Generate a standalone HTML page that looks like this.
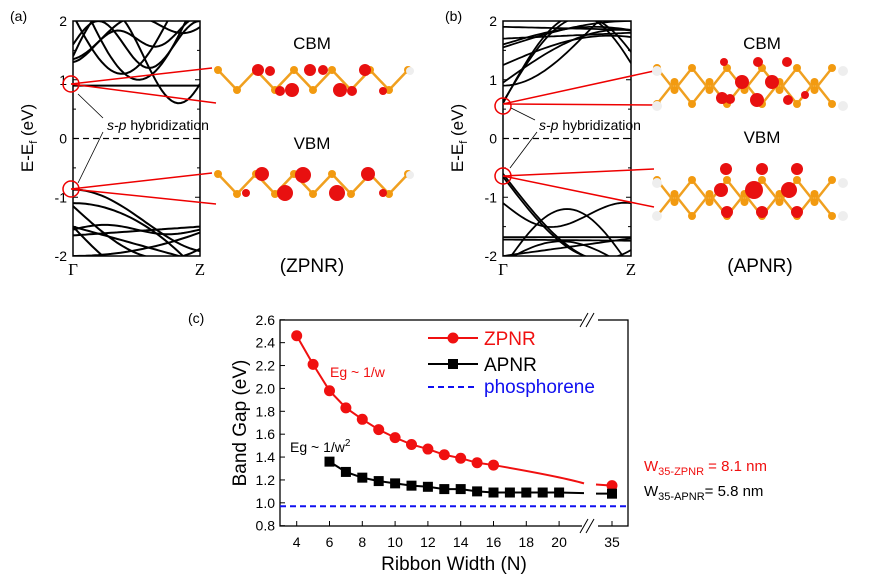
<!DOCTYPE html>
<html><head><meta charset="utf-8"><style>
body{margin:0;background:#fff;width:878px;height:583px;overflow:hidden}
svg{font-family:"Liberation Sans",Arial,sans-serif}
</style></head><body>
<svg id="s" width="878" height="583" viewBox="0 0 878 583" xmlns="http://www.w3.org/2000/svg">
<g id="a"></g>
</svg>
<script>
var S=document.getElementById('a'),NS='http://www.w3.org/2000/svg';
function el(t,at,txt){var e=document.createElementNS(NS,t);for(var k in at)e.setAttribute(k,at[k]);if(txt!==undefined)e.innerHTML=txt;S.appendChild(e);return e;}
function band(x0,x1,curves,sw,tag){
 var Y=function(E){return 138.5-58.75*E};
 var cp='c'+tag;
 el('clipPath',{id:cp},'<rect x="'+x0+'" y="21" width="'+(x1-x0)+'" height="235"/>');
 var g=el('g',{'clip-path':'url(#'+cp+')'});
 curves.forEach(function(c){var d='';for(var i=0;i<=40;i++){var t=i/40;var E=c(t);d+=(i?'L':'M')+(x0+t*(x1-x0)).toFixed(1)+','+Y(E).toFixed(1);}
  var p=document.createElementNS(NS,'path');p.setAttribute('d',d);p.setAttribute('fill','none');p.setAttribute('stroke','#000');p.setAttribute('stroke-width',sw);g.appendChild(p);});
 el('rect',{x:x0,y:21,width:x1-x0,height:235,fill:'none',stroke:'#000','stroke-width':1.5});
 [-2,-1,0,1,2].forEach(function(v){el('line',{x1:x0,x2:x0+5,y1:Y(v),y2:Y(v),stroke:'#000'});el('line',{x1:x1,x2:x1-5,y1:Y(v),y2:Y(v),stroke:'#000'});
  el('text',{x:x0-6,y:Y(v)+5,'font-size':14,'text-anchor':'end'},v);});
 [-1.5,-0.5,0.5,1.5].forEach(function(v){el('line',{x1:x0,x2:x0+3,y1:Y(v),y2:Y(v),stroke:'#000'});el('line',{x1:x1,x2:x1-3,y1:Y(v),y2:Y(v),stroke:'#000'});});
 el('line',{x1:x0,x2:x1,y1:Y(0),y2:Y(0),stroke:'#000','stroke-dasharray':'6,4','stroke-width':1.3});
 el('text',{x:x0,y:275,'font-size':17,'text-anchor':'middle','font-family':'Liberation Serif'},'Γ');
 el('text',{x:x1,y:275,'font-size':17,'text-anchor':'middle','font-family':'Liberation Serif'},'Z');
 el('text',{x:x0-40,y:138,'font-size':17,'text-anchor':'middle',transform:'rotate(-90 '+(x0-40)+' 138)'},'E-E<tspan font-size="11" dy="4">f</tspan><tspan dy="-4"> (eV)</tspan>');
}
var cos=Math.cos,sin=Math.sin,PI=Math.PI;
band(73,200,[
 t=>0.9, t=>1.05+ (0.9-0.4*cos(PI*t*2.2))*0.6+0.5*t,
 t=>2.1-1.0*sin(PI*t*1.3), t=>1.5-0.2*cos(PI*t*3)+0.4*t, t=>1.6+0.4*sin(PI*t*2.5),
 t=>2.2-1.2*sin(PI*(t-0.1)*1.2)*(t>0.1), t=>1.4+0.8*sin(PI*t*1.8),
 t=>-0.87-1.1*sin(PI*t*0.6)*t, t=>-1.1-1.0*t*t*1.2, t=>-1.15-0.9*sin(PI*t*0.7),
 t=>-1.55+0.08*sin(PI*t*2), t=>-1.6-0.6*t+0.1, t=>-1.5-0.9*sin(PI*t*0.8), t=>-2.0+0.4*t*t, t=>-1.65+0.15*t
],2,'a');
el('path',{d:'M 71 84 L 212 68 M 71 84 L 216 103 M 71 189 L 212 173 M 71 189 L 216 204',stroke:'#e00','stroke-width':1.5,fill:'none'});
el('circle',{cx:71,cy:84,r:8,stroke:'#e00','stroke-width':1.5,fill:'none'});
el('circle',{cx:71,cy:189,r:8,stroke:'#e00','stroke-width':1.5,fill:'none'});
el('path',{d:'M103 118 L78 94 M103 132 L78 183',stroke:'#000','stroke-width':0.8});
el('text',{x:107,y:130,'font-size':14},'<tspan font-style="italic">s-p</tspan> hybridization');
el('text',{x:10,y:21,'font-size':14},'(a)');
el('text',{x:312,y:49,'font-size':17,'text-anchor':'middle'},'CBM');
el('text',{x:312,y:149,'font-size':17,'text-anchor':'middle'},'VBM');
el('text',{x:312,y:272,'font-size':19,'text-anchor':'middle'},'(ZPNR)');
band(503,631,[
 t=>0.6+1.5*sin(PI*t*0.85), t=>0.62+1.45*sin(PI*t*0.8), t=>0.9+1.0*sin(PI*t*0.5)*t*1.6, t=>0.95+0.9*sin(PI*t*0.55),
 t=>1.25+0.5*sin(PI*t*0.6), t=>1.55+0.45*sin(PI*t*0.5), t=>1.7+0.1*t, t=>1.6+0.3*sin(PI*t*0.7), t=>1.9-0.05*t,
 t=>-0.6-1.5*sin(PI*t*0.6), t=>-0.65-1.4*sin(PI*t*0.65), t=>-1.1-0.3*t-0.3*sin(PI*t*1.5),
 t=>-2.2+1.0*sin(PI*t), t=>-1.68, t=>-1.72-0.02*t, t=>-2.1+0.35*sin(PI*t*1.1), t=>-2.0+0.3*t
],1.8,'b');
el('path',{d:'M 503 104 L 654 71 M 503 104 L 654 105 M 503 176 L 654 169 M 503 176 L 654 207',stroke:'#e00','stroke-width':1.5,fill:'none'});
el('circle',{cx:503,cy:106,r:8,stroke:'#e00','stroke-width':1.5,fill:'none'});
el('circle',{cx:503,cy:176,r:8,stroke:'#e00','stroke-width':1.5,fill:'none'});
el('path',{d:'M535 120 L511 108 M537 132 L510 168',stroke:'#000','stroke-width':0.8});
el('text',{x:539,y:130,'font-size':14},'<tspan font-style="italic">s-p</tspan> hybridization');
el('text',{x:445,y:21,'font-size':14},'(b)');
el('text',{x:762,y:49,'font-size':17,'text-anchor':'middle'},'CBM');
el('text',{x:762,y:143,'font-size':17,'text-anchor':'middle'},'VBM');
el('text',{x:760,y:272,'font-size':19,'text-anchor':'middle'},'(APNR)');
function zig(x0,y0,n,amp,w){var d='M'+x0+','+y0;for(var i=1;i<=n;i++)d+=' L'+(x0+i*w)+','+(y0+(i%2?amp:0));el('path',{d:d,stroke:'#f0a020','stroke-width':2.5,fill:'none'});
 for(var i=0;i<=n;i++)el('circle',{cx:x0+i*w,cy:y0+(i%2?amp:0),r:4,fill:'#f29a10'});}
function blob(x,y,r){el('circle',{cx:x,cy:y,r:r,fill:'#e81010'});}
zig(218,70,10,20,19);zig(218,174,10,20,19);
[[258,70,6],[270,71,5],[310,70,6],[323,70,5],[365,70,6],[292,90,7],[280,91,5],[340,90,7],[352,91,5],[383,91,4]].forEach(b=>blob(b[0],b[1],b[2]));
[[262,174,7],[303,175,8],[368,174,7],[285,193,8],[337,193,8],[383,193,4],[246,193,4]].forEach(b=>blob(b[0],b[1],b[2]));
el('circle',{cx:410,cy:71,r:4,fill:'#eee'});el('circle',{cx:410,cy:175,r:4,fill:'#eee'});
function azig(x0,y0){zig(x0,y0,10,22,17.5);zig(x0,y0+36,10,-22,17.5);}
azig(657,68);azig(657,180);
[[724,62,4],[722,98,6],[742,82,7],[772,82,7],[787,62,5],[758,62,5],[730,99,5],[757,100,7],[788,100,5],[805,95,4]].forEach(b=>blob(b[0],b[1],b[2]));
[[726,169,6],[762,169,6],[797,169,6],[721,190,7],[754,190,9],[789,190,8],[727,212,6],[762,212,6],[797,212,6]].forEach(b=>blob(b[0],b[1],b[2]));
[[657,71],[657,106],[843,71],[843,106],[657,183],[657,216],[843,183],[843,216]].forEach(b=>el('circle',{cx:b[0],cy:b[1],r:5,fill:'#eee'}));
var X=N=>N==35?612:296.7+(N-4)*16.4, Yc=E=>525.7-(E-0.8)*114.4;
el('rect',{x:280,y:320,width:348,height:206,fill:'none',stroke:'#000','stroke-width':1.3});
el('rect',{x:582,y:305,width:16,height:230,fill:'#fff'});
el('path',{d:'M580 327 L588 313 M586 327 L594 313 M580 533 L588 519 M586 533 L594 519',stroke:'#000','stroke-width':1});
for(var v=0.8;v<2.65;v+=0.2){var yy=Yc(v);el('line',{x1:280,x2:285,y1:yy,y2:yy,stroke:'#000'});el('text',{x:275,y:yy+5,'font-size':14,'text-anchor':'end'},v.toFixed(1));}
[4,6,8,10,12,14,16,18,20,35].forEach(n=>{el('line',{x1:X(n),x2:X(n),y1:526,y2:521,stroke:'#000'});el('text',{x:X(n),y:547,'font-size':14,'text-anchor':'middle'},n);});
el('line',{x1:280,x2:628,y1:Yc(0.97),y2:Yc(0.97),stroke:'#1010f0','stroke-width':2,'stroke-dasharray':'6,4'});
var Z=[[4,2.46],[5,2.21],[6,1.98],[7,1.83],[8,1.73],[9,1.64],[10,1.57],[11,1.51],[12,1.47],[13,1.42],[14,1.39],[15,1.35],[16,1.33]];
var A=[[6,1.36],[7,1.27],[8,1.22],[9,1.19],[10,1.17],[11,1.15],[12,1.14],[13,1.12],[14,1.12],[15,1.10],[16,1.09],[17,1.09],[18,1.09],[19,1.09],[20,1.09]];
el('path',{d:'M'+Z.map(p=>X(p[0])+','+Yc(p[1])).join(' L')+' Q 560,'+Yc(1.23)+' 584,'+Yc(1.17)+' M596,'+Yc(1.16)+' L612,'+Yc(1.15),stroke:'#f01010','stroke-width':2,fill:'none'});
el('path',{d:'M'+A.map(p=>X(p[0])+','+Yc(p[1])).join(' L')+' L584,'+Yc(1.085)+' M596,'+Yc(1.08)+' L612,'+Yc(1.08),stroke:'#000','stroke-width':2,fill:'none'});
Z.concat([[35,1.15]]).forEach(p=>el('circle',{cx:X(p[0]),cy:Yc(p[1]),r:5.5,fill:'#f01010'}));
A.concat([[35,1.08]]).forEach(p=>el('rect',{x:X(p[0])-5,y:Yc(p[1])-5,width:10,height:10,fill:'#000'}));
el('line',{x1:428,x2:478,y1:338,y2:338,stroke:'#f01010','stroke-width':2});el('circle',{cx:453,cy:338,r:5.5,fill:'#f01010'});
el('text',{x:484,y:345,'font-size':19,fill:'#f01010'},'ZPNR');
el('line',{x1:428,x2:478,y1:364,y2:364,stroke:'#000','stroke-width':2});el('rect',{x:448,y:359,width:10,height:10,fill:'#000'});
el('text',{x:484,y:371,'font-size':19},'APNR');
el('line',{x1:428,x2:478,y1:387,y2:387,stroke:'#1010f0','stroke-width':2,'stroke-dasharray':'6,4'});
el('text',{x:484,y:393,'font-size':19,fill:'#1010f0'},'phosphorene');
el('text',{x:330,y:377,'font-size':14,fill:'#f01010'},'Eg ~ 1/w');
el('text',{x:290,y:452,'font-size':14},'Eg ~ 1/w<tspan dy="-6" font-size="10">2</tspan>');
el('text',{x:454,y:570,'font-size':19,'text-anchor':'middle'},'Ribbon Width (N)');
el('text',{x:246,y:423,'font-size':19,'text-anchor':'middle',transform:'rotate(-90 246 423)'},'Band Gap (eV)');
el('text',{x:188,y:323,'font-size':14},'(c)');
el('text',{x:644,y:471,'font-size':15,fill:'#f01010'},'W<tspan font-size="11" dy="4">35-ZPNR</tspan><tspan dy="-4"> = 8.1 nm</tspan>');
el('text',{x:644,y:496,'font-size':15},'W<tspan font-size="11" dy="4">35-APNR</tspan><tspan dy="-4">= 5.8 nm</tspan>');
</script>
</body></html>
